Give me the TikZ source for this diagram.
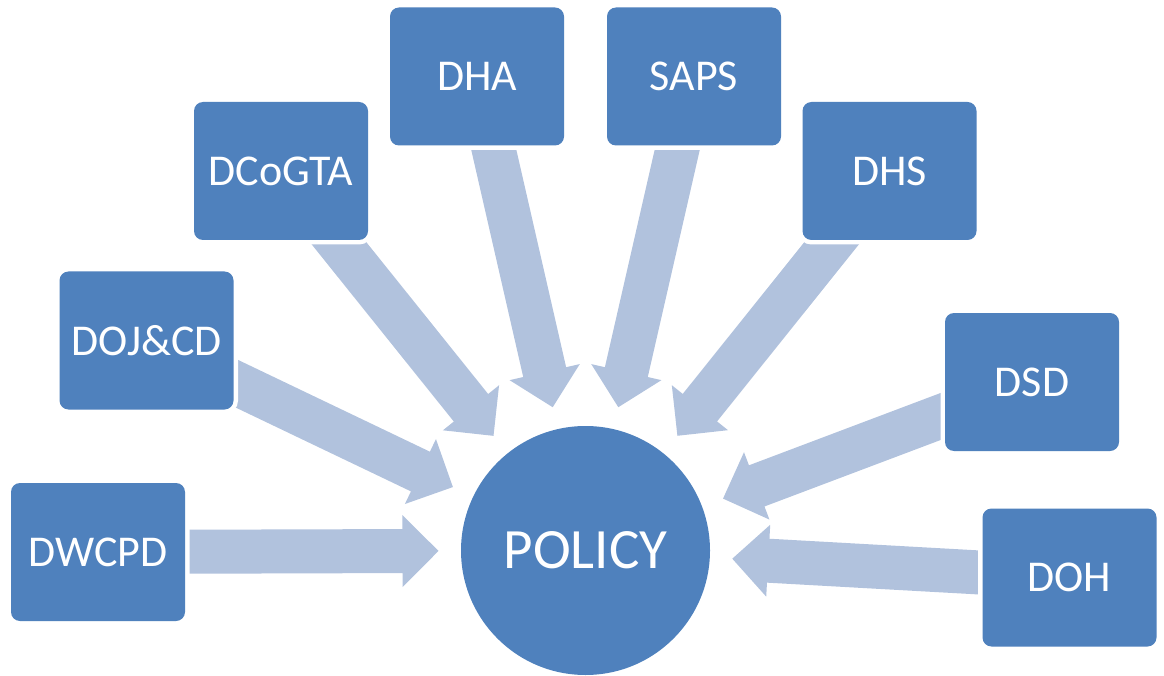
\documentclass[tikz,border=0pt]{standalone}
\usepackage{fontspec}
\setmainfont{Carlito}
\usetikzlibrary{calc}
\pgfdeclarelayer{background}
\pgfsetlayers{background,main}
\definecolor{boxblue}{HTML}{4F81BD}
\definecolor{arrowblue}{HTML}{B1C2DD}
\tikzset{
  dept/.style={rectangle, rounded corners=9pt, fill=boxblue, minimum width=174pt,
    minimum height=138pt, text=white, font=\fontsize{44}{52}\selectfont, inner sep=0pt,
    preaction={draw=white, line width=9pt}},
  hub/.style={circle, fill=boxblue, minimum size=249pt, inner sep=0pt, text=white,
    font=\fontsize{57}{68}\selectfont},
  flow/.style={fill=arrowblue, draw=none}
}
\newcommand{\flowarrow}[2]{%
  \coordinate (T) at (#1.center);
  \coordinate (E) at ($(#2.center)!147pt!(#1.center)$);
  \coordinate (B) at ($(E)!36pt!(T)$);
  \fill[flow] ($(T)!22pt!90:(E)$) -- ($(B)!22pt!90:(E)$) -- ($(B)!36pt!90:(E)$) -- (E)
    -- ($(B)!36pt!-90:(E)$) -- ($(B)!22pt!-90:(E)$) -- ($(T)!22pt!-90:(E)$) -- cycle;
}
\begin{document}
\begin{tikzpicture}[x=1pt, y=-1pt]
\useasboundingbox (0,0) rectangle (1164,676);
\node[hub] (policy) at (585.5,550.5) {POLICY};
\node[dept] (dwcpd) at (98,552) {DWCPD};
\node[dept] (dojcd) at (146.5,340.5) {DOJ\&CD};
\node[dept] (dcogta) at (281,171) {DCoGTA};
\node[dept] (dha) at (477,76.5) {DHA};
\node[dept] (saps) at (694,76.5) {SAPS};
\node[dept] (dhs) at (889.5,171) {DHS};
\node[dept] (dsd) at (1032,382) {DSD};
\node[dept] (doh) at (1069.5,577.5) {DOH};
\begin{pgfonlayer}{background}
  \flowarrow{dwcpd}{policy}
  \flowarrow{dojcd}{policy}
  \flowarrow{dcogta}{policy}
  \flowarrow{dha}{policy}
  \flowarrow{saps}{policy}
  \flowarrow{dhs}{policy}
  \flowarrow{dsd}{policy}
  \flowarrow{doh}{policy}
\end{pgfonlayer}
\end{tikzpicture}
\end{document}
